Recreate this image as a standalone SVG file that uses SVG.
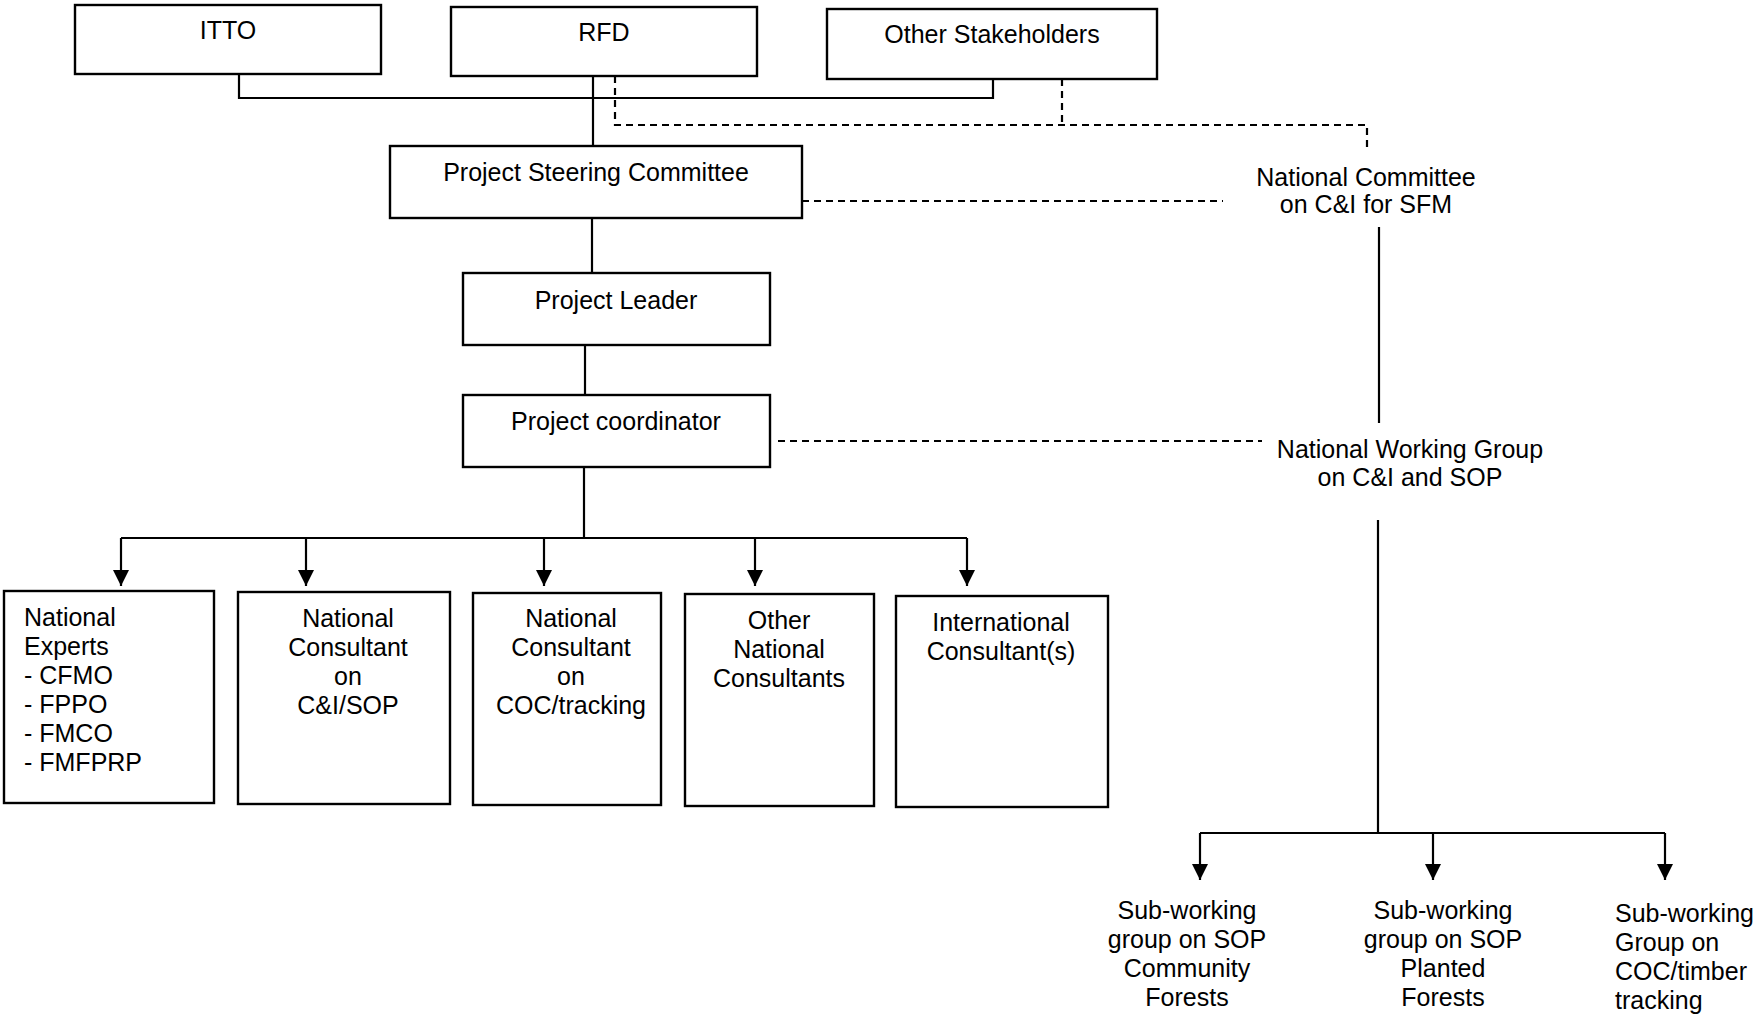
<svg xmlns="http://www.w3.org/2000/svg" width="1757" height="1014" viewBox="0 0 1757 1014">
<style>
.box{fill:#fff;stroke:#000;stroke-width:2.4}
.t{font-family:"Liberation Sans",Arial,sans-serif;font-size:25px;fill:#000}
.c{text-anchor:middle}
.ln{fill:none;stroke:#000;stroke-width:2.2}
.dash{fill:none;stroke:#000;stroke-width:2.2;stroke-dasharray:7 5}
</style>
<defs>
<marker id="ah" markerUnits="userSpaceOnUse" markerWidth="16" markerHeight="16" viewBox="0 0 16 16" refX="8" refY="16">
<path d="M0,0 L16,0 L8,16 Z" fill="#000"/>
</marker>
</defs>
<rect width="1757" height="1014" fill="#fff"/>
<g id="connectors">
<path class="ln" d="M239,74 V98 H993 V79"/>
<path class="ln" d="M593,76 V146"/>
<path class="ln" d="M592,218 V273"/>
<path class="ln" d="M585,345 V395"/>
<path class="ln" d="M584,467 V538"/>
<path class="ln" d="M121,538 H967"/>
<path class="ln" d="M121,538 V586" marker-end="url(#ah)"/>
<path class="ln" d="M306,538 V586" marker-end="url(#ah)"/>
<path class="ln" d="M544,538 V586" marker-end="url(#ah)"/>
<path class="ln" d="M755,538 V586" marker-end="url(#ah)"/>
<path class="ln" d="M967,538 V586" marker-end="url(#ah)"/>
<path class="ln" d="M1379,227 V423"/>
<path class="ln" d="M1378,520 V833"/>
<path class="ln" d="M1200,833 H1665"/>
<path class="ln" d="M1200,833 V880" marker-end="url(#ah)"/>
<path class="ln" d="M1433,833 V880" marker-end="url(#ah)"/>
<path class="ln" d="M1665,833 V880" marker-end="url(#ah)"/>
<path class="dash" d="M615,76 V125 H1367 V150"/>
<path class="dash" d="M1062,79 V125"/>
<path class="dash" d="M802,201 H1223"/>
<path class="dash" d="M778,441 H1262"/>
</g>
<g id="itto"><rect class="box" x="75" y="5" width="306" height="69"/><text class="t c" x="228" y="39">ITTO</text></g>
<g id="rfd"><rect class="box" x="451" y="7" width="306" height="69"/><text class="t c" x="604" y="41">RFD</text></g>
<g id="other-stakeholders"><rect class="box" x="827" y="9" width="330" height="70"/><text class="t c" x="992" y="43">Other Stakeholders</text></g>
<g id="psc"><rect class="box" x="390" y="146" width="412" height="72"/><text class="t c" x="596" y="181">Project Steering Committee</text></g>
<g id="project-leader"><rect class="box" x="463" y="273" width="307" height="72"/><text class="t c" x="616" y="309">Project Leader</text></g>
<g id="project-coordinator"><rect class="box" x="463" y="395" width="307" height="72"/><text class="t c" x="616" y="430">Project coordinator</text></g>
<g id="national-committee"><text class="t c" x="1366" y="186">National Committee</text><text class="t c" x="1366" y="213">on C&amp;I for SFM</text></g>
<g id="national-working-group"><text class="t c" x="1410" y="458">National Working Group</text><text class="t c" x="1410" y="486">on C&amp;I and SOP</text></g>
<g id="national-experts"><rect class="box" x="4" y="591" width="210" height="212"/>
<text class="t" x="24" y="626">National</text><text class="t" x="24" y="655">Experts</text><text class="t" x="24" y="684">- CFMO</text><text class="t" x="24" y="713">- FPPO</text><text class="t" x="24" y="742">- FMCO</text><text class="t" x="24" y="771">- FMFPRP</text></g>
<g id="nc-ci-sop"><rect class="box" x="238" y="592" width="212" height="212"/>
<text class="t c" x="348" y="627">National</text><text class="t c" x="348" y="656">Consultant</text><text class="t c" x="348" y="685">on</text><text class="t c" x="348" y="714">C&amp;I/SOP</text></g>
<g id="nc-coc"><rect class="box" x="473" y="593" width="188" height="212"/>
<text class="t c" x="571" y="627">National</text><text class="t c" x="571" y="656">Consultant</text><text class="t c" x="571" y="685">on</text><text class="t c" x="571" y="714">COC/tracking</text></g>
<g id="other-nc"><rect class="box" x="685" y="594" width="189" height="212"/>
<text class="t c" x="779" y="629">Other</text><text class="t c" x="779" y="658">National</text><text class="t c" x="779" y="687">Consultants</text></g>
<g id="intl-consultants"><rect class="box" x="896" y="596" width="212" height="211"/>
<text class="t c" x="1001" y="631">International</text><text class="t c" x="1001" y="660">Consultant(s)</text></g>
<g id="swg-community"><text class="t c" x="1187" y="919">Sub-working</text><text class="t c" x="1187" y="948">group on SOP</text><text class="t c" x="1187" y="977">Community</text><text class="t c" x="1187" y="1006">Forests</text></g>
<g id="swg-planted"><text class="t c" x="1443" y="919">Sub-working</text><text class="t c" x="1443" y="948">group on SOP</text><text class="t c" x="1443" y="977">Planted</text><text class="t c" x="1443" y="1006">Forests</text></g>
<g id="swg-coc"><text class="t" x="1615" y="922">Sub-working</text><text class="t" x="1615" y="951">Group on</text><text class="t" x="1615" y="980">COC/timber</text><text class="t" x="1615" y="1009">tracking</text></g>
</svg>
